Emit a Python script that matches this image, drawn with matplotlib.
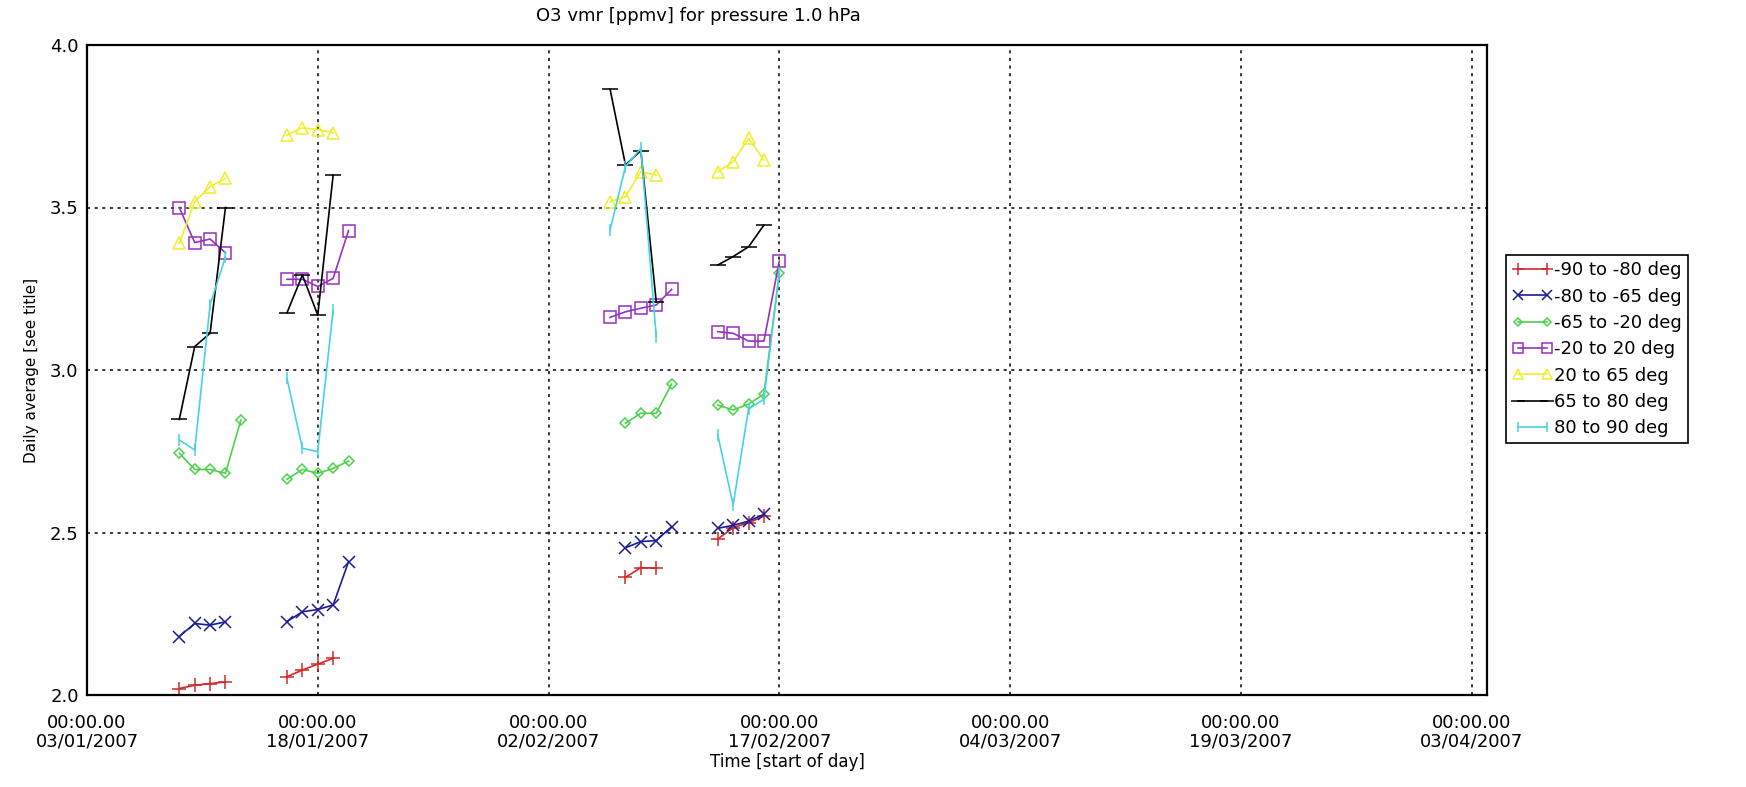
import datetime as dt
import numpy as np
import matplotlib
matplotlib.use("Agg")
import matplotlib.pyplot as plt

nan = np.nan

# observed days (start of day)
days = ["2007-01-09", "2007-01-10", "2007-01-11", "2007-01-12", "2007-01-13",
        "2007-01-16", "2007-01-17", "2007-01-18", "2007-01-19", "2007-01-20",
        "2007-02-06", "2007-02-07", "2007-02-08", "2007-02-09", "2007-02-10",
        "2007-02-13", "2007-02-14", "2007-02-15", "2007-02-16", "2007-02-17"]

lat_90_80 = [2.02, 2.03, 2.035, 2.04, nan, 2.056, 2.077, 2.095, 2.113, nan,
             nan, 2.362, 2.392, 2.39, nan, 2.48, 2.515, 2.53, 2.55, nan]
lat_80_65 = [2.18, 2.22, 2.215, 2.225, nan, 2.226, 2.256, 2.263, 2.277, 2.41,
             nan, 2.453, 2.472, 2.475, 2.518, 2.513, 2.522, 2.535, 2.556, nan]
lat_65_20 = [2.744, 2.694, 2.694, 2.682, 2.846, 2.664, 2.694, 2.682, 2.697, 2.72,
             nan, 2.836, 2.867, 2.867, 2.957, 2.892, 2.877, 2.895, 2.926, 3.297]
lat_20_20 = [3.50, 3.392, 3.403, 3.361, nan, 3.279, 3.279, 3.257, 3.282, 3.429,
             3.162, 3.179, 3.19, 3.20, 3.248, 3.118, 3.113, 3.089, 3.089, 3.335]
lat_20_65 = [3.39, 3.518, 3.564, 3.59, nan, 3.723, 3.745, 3.74, 3.73, nan,
             3.518, 3.533, 3.61, 3.60, nan, 3.61, 3.641, 3.713, 3.646, nan]
lat_65_80 = [2.848, 3.072, 3.113, 3.50, nan, 3.176, 3.292, 3.169, 3.60, nan,
             3.864, 3.631, 3.675, 3.21, nan, 3.323, 3.349, 3.379, 3.446, nan]
lat_80_90 = [2.785, 2.754, 3.20, 3.348, nan, 2.974, 2.759, 2.749, 3.185, nan,
             3.431, 3.626, 3.682, 3.103, nan, 2.80, 2.585, 2.88, 2.91, 3.30]

labels = ["-90 to -80 deg", "-80 to -65 deg", "-65 to -20 deg", "-20 to 20 deg",
          "20 to 65 deg", "65 to 80 deg", "80 to 90 deg"]
series = [lat_90_80, lat_80_65, lat_65_20, lat_20_20, lat_20_65, lat_65_80, lat_80_90]
colors = ["#d42828", "#1c1c96", "#4cd24c", "#9632c0", "#f2ee2a", "#000000", "#48d2e0"]
markers = ["+", "x", "D", "s", "^", "_", "|"]
msizes = [10, 9, 5, 9, 8, 12, 8]

tick_dates = ["2007-01-03", "2007-01-18", "2007-02-02", "2007-02-17",
              "2007-03-04", "2007-03-19", "2007-04-03"]


def with_breaks(dates, vals):
    """NaN zwischen nicht aufeinanderfolgenden Tagen einfuegen."""
    xs, ys = [], []
    prev = None
    for d, v in zip(dates, vals):
        if prev is not None and (d - prev).days > 1:
            xs.append(prev + dt.timedelta(days=1))
            ys.append(nan)
        xs.append(d)
        ys.append(v)
        prev = d
    return xs, ys


dates = [dt.datetime.strptime(d, "%Y-%m-%d") for d in days]

fig = plt.figure(figsize=(17.46, 7.87), dpi=100)
ax = fig.add_axes([87 / 1746, 1 - 695 / 787, (1487 - 87) / 1746, (695 - 45) / 787])

for vals, lab, col, mk, ms in zip(series, labels, colors, markers, msizes):
    xs, ys = with_breaks(dates, vals)
    hollow = mk in ("D", "s", "^")
    ax.plot(xs, ys, color=col, lw=1.2, marker=mk, ms=ms, mew=1.1,
            mfc="none" if hollow else col, label=lab)

ax.set_xlim(dt.datetime(2007, 1, 3), dt.datetime(2007, 4, 4))
ax.set_ylim(2.0, 4.0)

ticks = [dt.datetime.strptime(d, "%Y-%m-%d") for d in tick_dates]
ax.set_xticks(ticks)
ax.set_xticklabels(["00:00.00\n" + t.strftime("%d/%m/%Y") for t in ticks],
                   fontsize=13, linespacing=1.0)
ax.set_yticks([2.0, 2.5, 3.0, 3.5, 4.0])
ax.set_yticklabels(["2.0", "2.5", "3.0", "3.5", "4.0"], fontsize=13)
ax.tick_params(axis="x", length=0, pad=14)
ax.tick_params(axis="y", length=0, pad=6)

ax.grid(True, color="black", linestyle=(0, (2, 3)), lw=1.1)
for sp in ax.spines.values():
    sp.set_linewidth(1.6)

ax.set_xlabel("Time [start of day]", fontsize=12, labelpad=2)
ax.set_ylabel("Daily average [see title]", fontsize=11, labelpad=8)
fig.text(698 / 1746, 1 - 16 / 787, "O3 vmr [ppmv] for pressure 1.0 hPa",
         ha="center", va="center", fontsize=13)

leg = ax.legend(loc="upper left", bbox_to_anchor=(1506 / 1746, 1 - 255 / 787),
                bbox_transform=fig.transFigure, fontsize=13, numpoints=2,
                markerscale=0.85, handlelength=2.2, handletextpad=0.1,
                borderaxespad=0, borderpad=0.35, labelspacing=0.46,
                fancybox=False, framealpha=1, edgecolor="black")
leg.get_frame().set_linewidth(1.2)

fig.savefig("out.png", dpi=100)
